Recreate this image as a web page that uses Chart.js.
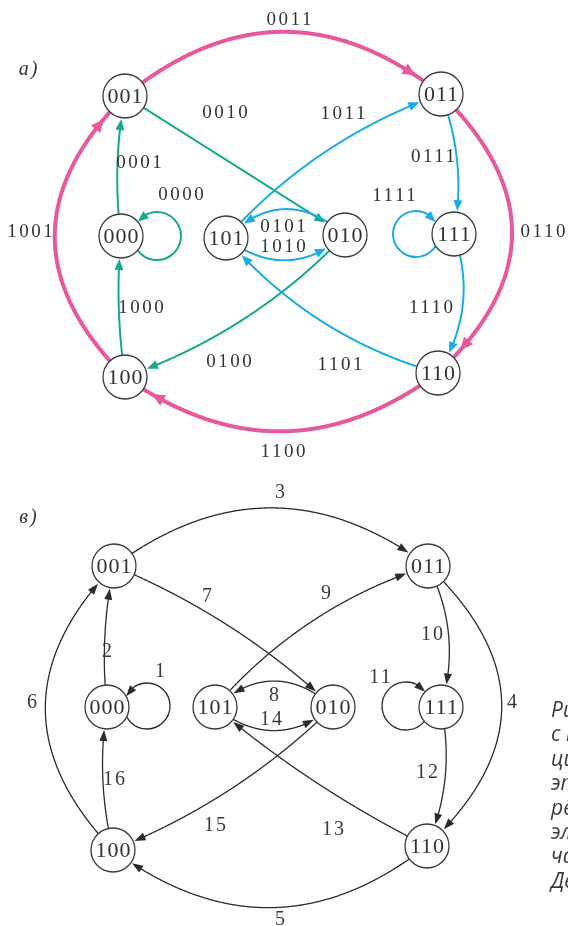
<!DOCTYPE html>
<html>
<head>
<meta charset="utf-8">
<script src="https://cdn.jsdelivr.net/npm/chart.js@4.4.0/dist/chart.umd.min.js"></script>
<style>
  html, body { margin: 0; padding: 0; background: #fff; overflow: hidden; }
  #wrap { position: relative; width: 568px; height: 926px; }
  #caption { position: absolute; left: 551px; top: 697px; font: italic 21px/24.4px "Open Sans", sans-serif; color: #3c3c3c; white-space: nowrap; }
</style>
</head>
<body>
<div id="wrap">
  <canvas id="graph" width="568" height="926"></canvas>
  <div id="caption">Рис. 2.7. Граф де Брёйна<br>с нумерацией рёбер<br>цикла: а — рёбра<br>этого графа;<br>рёбра, обход<br>элементов<br>части<br>Де Брёйна</div>
</div>
<script>
// узлы графа де Брёйна (3 бита) и их положение на двух рисунках
const nodeNames = ['000', '001', '010', '011', '100', '101', '110', '111'];
const nodeXA = [121, 125, 345, 441, 125, 226, 438, 454];
const nodeYA = [236, 96, 235, 94, 377, 238, 373, 234];
const nodeXB = [107, 114, 333, 428, 113, 215, 427, 441];
const nodeYB = [707, 566, 707, 566, 850, 707, 846, 707];

// рёбра: код из 4 бит, из узла code[0..2] в узел code[1..3]
const edgeCodes = ['0000', '0001', '0011', '0110', '1100', '1001', '0010', '0101',
                   '1011', '0111', '1111', '1110', '1101', '1010', '0100', '1000'];
// номер ребра в эйлеровом цикле (рисунок в)
const edgeOrder = [1, 2, 3, 4, 5, 6, 7, 8, 9, 10, 11, 12, 13, 14, 15, 16];

// оформление рёбер (в порядке edgeCodes)
const edgeGroup = ['g', 'g', 'p', 'p', 'p', 'p', 'g', 'b', 'b', 'b', 'b', 'b', 'b', 'b', 'g', 'g'];
const bendA = [0, 0.04, 0.2, 0.26, 0.18, 0.25, 0, -0.23, 0.063, 0.07, 0, 0.12, 0.075, -0.2, 0.06, 0.03];
const bendB = [0, 0.04, 0.185, 0.265, 0.19, 0.24, 0.045, -0.22, 0.07, 0.1, 0, 0.08, 0.03, -0.2, 0.05, 0.05];
const labelPosA = [[181, 195], [139, 163], [289, 20], [543, 232], [283, 452], [30, 232], [225, 113], [283, 227],
                   [343, 114], [433, 157], [394, 196], [431, 308], [340, 365], [283, 247], [229, 362], [141, 308]];
const labelPosB = [[160, 672], [107, 652], [280, 493], [512, 703], [280, 920], [32, 703], [207, 597], [274, 696],
                   [326, 594], [432, 635], [380, 678], [427, 773], [333, 830], [271, 720], [215, 826], [114, 780]];
// петли: центр и радиус
const loopA = { '0000': [157, 236, 24], '1111': [416, 234, 23] };
const loopB = { '0000': [147, 706, 23], '1111': [406, 706, 24] };

const R = 22;
const styles = {
    p: { color: '#e8589c', width: 4, len: 13, half: 6, r0: R - 2, tipR: R + 9, lineR: R - 2 },
    g: { color: '#17a98b', width: 2, len: 11, half: 4.5, r0: R, tipR: R + 1, lineR: R + 8 },
    b: { color: '#19ace6', width: 2, len: 11, half: 4.5, r0: R, tipR: R + 1, lineR: R + 8 },
    k: { color: '#2b2b2b', width: 1.3, len: 11, half: 4, r0: R, tipR: R + 1, lineR: R + 8 }
};

function quad(a, c, b, t) {
    const u = 1 - t;
    return { x: u * u * a.x + 2 * u * t * c.x + t * t * b.x, y: u * u * a.y + 2 * u * t * c.y + t * t * b.y };
}

function arrowHead(ctx, tip, dir, st) {
    const n = Math.hypot(dir.x, dir.y);
    const ux = dir.x / n, uy = dir.y / n;
    const bx = tip.x - ux * st.len, by = tip.y - uy * st.len;
    ctx.beginPath();
    ctx.moveTo(tip.x, tip.y);
    ctx.lineTo(bx - uy * st.half, by + ux * st.half);
    ctx.lineTo(bx + uy * st.half, by - ux * st.half);
    ctx.closePath();
    ctx.fillStyle = st.color;
    ctx.fill();
}

function drawEdge(ctx, a, b, bend, st) {
    const dx = b.x - a.x, dy = b.y - a.y, len = Math.hypot(dx, dy);
    const nx = dy / len, ny = -dx / len;
    const c = { x: (a.x + b.x) / 2 + nx * 2 * bend * len, y: (a.y + b.y) / 2 + ny * 2 * bend * len };
    const N = 400, pts = [];
    for (let i = 0; i <= N; i++) pts.push(quad(a, c, b, i / N));
    const dA = p => Math.hypot(p.x - a.x, p.y - a.y);
    const dB = p => Math.hypot(p.x - b.x, p.y - b.y);
    let i0 = 0; while (i0 < N && dA(pts[i0]) < st.r0) i0++;
    let iTip = N; while (iTip > 0 && dB(pts[iTip]) < st.tipR) iTip--;
    let iEnd = N; while (iEnd > 0 && dB(pts[iEnd]) < st.lineR) iEnd--;
    ctx.beginPath();
    ctx.moveTo(pts[i0].x, pts[i0].y);
    for (let i = i0 + 1; i <= iEnd; i++) ctx.lineTo(pts[i].x, pts[i].y);
    ctx.strokeStyle = st.color;
    ctx.lineWidth = st.width;
    ctx.stroke();
    const tip = pts[iTip];
    let j = iTip; while (j > 0 && Math.hypot(pts[j].x - tip.x, pts[j].y - tip.y) < st.len) j--;
    arrowHead(ctx, tip, { x: tip.x - pts[j].x, y: tip.y - pts[j].y }, st);
}

function drawLoop(ctx, nc, lc, rl, st) {
    const d = Math.hypot(nc.x - lc.x, nc.y - lc.y);
    const phi = Math.acos((d * d + rl * rl - R * R) / (2 * d * rl));
    const base = Math.atan2(nc.y - lc.y, nc.x - lc.x);
    const a1 = base + phi, a2 = base + 2 * Math.PI - phi;
    const at = a => ({ x: lc.x + rl * Math.cos(a), y: lc.y + rl * Math.sin(a) });
    const sh = st.len / rl;
    ctx.beginPath();
    let tip, back;
    if (at(a1).y < at(a2).y) {
        ctx.arc(lc.x, lc.y, rl, a1 + sh * 0.7, a2);
        tip = at(a1); back = at(a1 + sh);
    } else {
        ctx.arc(lc.x, lc.y, rl, a1, a2 - sh * 0.7);
        tip = at(a2); back = at(a2 - sh);
    }
    ctx.strokeStyle = st.color;
    ctx.lineWidth = st.width;
    ctx.stroke();
    arrowHead(ctx, tip, { x: tip.x - back.x, y: tip.y - back.y }, st);
}

function drawText(ctx, text, x, y, font, color, spacing) {
    ctx.font = font;
    ctx.letterSpacing = spacing + 'px';
    ctx.fillStyle = color;
    ctx.textAlign = 'center';
    ctx.textBaseline = 'middle';
    ctx.fillText(text, x + spacing / 2, y);
    ctx.letterSpacing = '0px';
}

const graphs = [
    { xs: nodeXA, ys: nodeYA, bends: bendA, loops: loopA, labels: labelPosA, text: edgeCodes, color: i => edgeGroup[i] },
    { xs: nodeXB, ys: nodeYB, bends: bendB, loops: loopB, labels: labelPosB, text: edgeOrder.map(String), color: () => 'k' }
];

const edgesPlugin = {
    id: 'edges',
    beforeDatasetsDraw(chart) {
        const ctx = chart.ctx;
        const sx = chart.scales.x, sy = chart.scales.y;
        ctx.save();
        graphs.forEach(g => {
            const pos = name => {
                const i = nodeNames.indexOf(name);
                return { x: sx.getPixelForValue(g.xs[i]), y: sy.getPixelForValue(g.ys[i]) };
            };
            edgeCodes.forEach((code, i) => {
                const from = code.slice(0, 3), to = code.slice(1);
                const st = styles[g.color(i)];
                if (from === to) {
                    const l = g.loops[code];
                    drawLoop(ctx, pos(from), { x: sx.getPixelForValue(l[0]), y: sy.getPixelForValue(l[1]) }, l[2], st);
                } else {
                    drawEdge(ctx, pos(from), pos(to), g.bends[i], st);
                }
            });
        });
        ctx.restore();
    },
    afterDatasetsDraw(chart) {
        const ctx = chart.ctx;
        const sx = chart.scales.x, sy = chart.scales.y;
        ctx.save();
        graphs.forEach((g, gi) => {
            nodeNames.forEach((name, i) => {
                drawText(ctx, name, sx.getPixelForValue(g.xs[i]), sy.getPixelForValue(g.ys[i]) + 1,
                    '22px "Liberation Serif", serif', '#333', 1);
            });
            g.text.forEach((t, i) => {
                drawText(ctx, t, sx.getPixelForValue(g.labels[i][0]), sy.getPixelForValue(g.labels[i][1]),
                    gi === 0 ? '19px "Liberation Serif", serif' : '20px "Liberation Serif", serif',
                    gi === 0 ? '#333' : '#3a3a3a', gi === 0 ? 2.5 : 2);
            });
        });
        drawText(ctx, 'а)', 28, 70, 'italic 20px "Liberation Serif", serif', '#333', 2);
        drawText(ctx, 'в)', 28, 518, 'italic 20px "Liberation Serif", serif', '#333', 2);
        ctx.restore();
    }
};

const nodeStyle = {
    pointRadius: R,
    pointHoverRadius: R,
    pointBorderWidth: 1.3,
    pointBorderColor: '#3a3a3a',
    pointBackgroundColor: '#ffffff'
};

new Chart(document.getElementById('graph').getContext('2d'), {
    type: 'scatter',
    data: {
        datasets: [
            Object.assign({ label: 'а', data: nodeNames.map((n, i) => ({ x: nodeXA[i], y: nodeYA[i] })) }, nodeStyle),
            Object.assign({ label: 'в', data: nodeNames.map((n, i) => ({ x: nodeXB[i], y: nodeYB[i] })) }, nodeStyle)
        ]
    },
    options: {
        responsive: false,
        animation: false,
        events: [],
        layout: { padding: 0, autoPadding: false },
        plugins: { legend: { display: false }, tooltip: { enabled: false } },
        scales: {
            x: { type: 'linear', min: 0, max: 568, display: false },
            y: { type: 'linear', min: 0, max: 926, reverse: true, display: false }
        }
    },
    plugins: [edgesPlugin]
});
</script>
</body>
</html>
